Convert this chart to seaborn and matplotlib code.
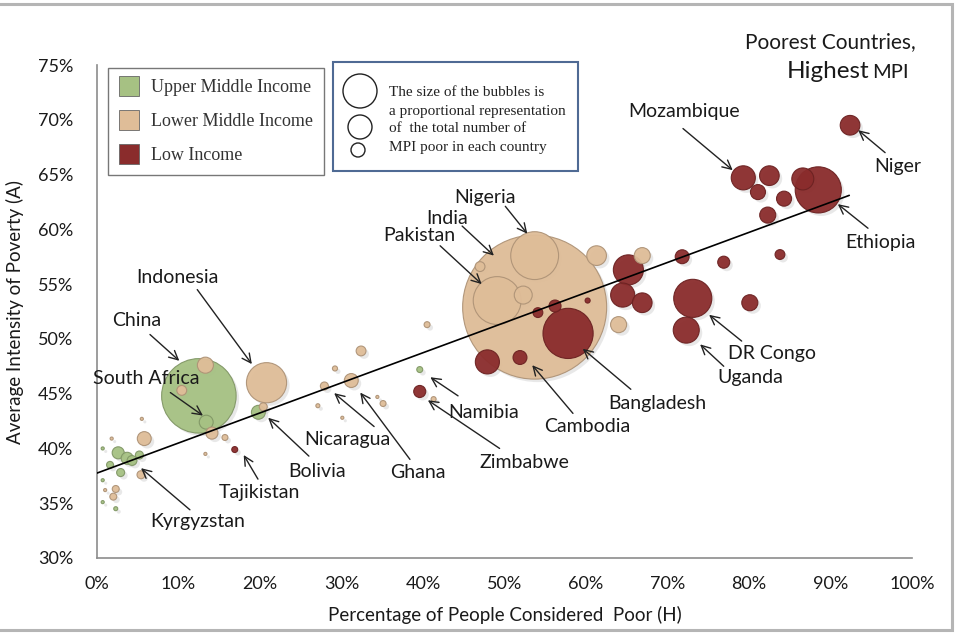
import numpy as np
import pandas as pd
import matplotlib
matplotlib.use("Agg")
import matplotlib.pyplot as plt
import seaborn as sns
from matplotlib.patches import Rectangle, Ellipse
from matplotlib.lines import Line2D
from matplotlib.ticker import FuncFormatter
from matplotlib.transforms import offset_copy

# ---------------- data ----------------
groups = ["Upper Middle Income", "Lower Middle Income", "Low Income"]

# H = % of people considered poor, A = average intensity, poor = MPI poor (millions, bubble area)
um_h = [12.5, 13.4, 19.8, 2.6, 3.7, 4.3, 5.2, 1.6, 2.9, 2.3, 39.6, 0.7, 0.7, 0.7]
um_a = [44.8, 42.4, 43.3, 39.6, 39.1, 38.9, 39.4, 38.5, 37.8, 34.5, 47.2, 40.0, 37.1, 35.1]
um_poor = [172, 6, 6, 4.5, 4.5, 3, 2, 1.5, 2, 0.5, 1.1, 0.3, 0.3, 0.3]

lm_h = [53.7, 53.7, 49.1, 20.8, 13.3, 10.4, 14.1, 15.7, 20.4, 5.8, 5.4, 2.3, 2.0, 32.4,
        29.2, 31.2, 27.9, 27.1, 35.1, 30.1, 41.3, 40.5, 52.3, 47.0, 61.3, 66.9, 64.0,
        5.5, 13.3, 34.4, 1.8, 1.0]
lm_a = [52.9, 57.6, 53.5, 46.0, 47.6, 45.3, 41.4, 41.0, 43.8, 40.9, 37.6, 36.3, 35.6, 48.9,
        47.3, 46.2, 45.7, 43.9, 44.1, 42.8, 44.5, 51.3, 54.0, 56.6, 57.6, 57.6, 51.3,
        42.7, 39.5, 44.7, 40.9, 36.2]
lm_poor = [643, 71, 71, 50, 8, 3, 4.5, 1.1, 2, 6, 2, 1.5, 1.5, 3,
           0.8, 6, 2, 0.5, 1.1, 0.3, 0.8, 1.1, 10, 3, 12, 8, 8,
           0.3, 0.3, 0.3, 0.3, 0.3]

li_h = [57.8, 16.9, 39.6, 47.9, 51.9, 56.2, 54.1, 60.2, 65.2, 64.5, 66.9, 71.8, 73.1, 72.3,
        76.9, 83.8, 80.1, 79.3, 82.5, 81.1, 84.3, 82.3, 88.5, 86.6, 92.4]
li_a = [50.5, 39.9, 45.2, 47.9, 48.3, 53.0, 52.4, 53.5, 56.3, 54.0, 53.3, 57.5, 53.7, 50.8,
        57.0, 57.7, 53.3, 64.7, 64.9, 63.4, 62.8, 61.3, 63.6, 64.6, 69.5]
li_poor = [78, 1.1, 4.5, 18, 6, 4.5, 3, 0.8, 28, 18, 12, 6, 45, 21,
           4.5, 3, 8, 18, 12, 7, 7, 8, 66, 15, 12]

# trend line end points
trend_h = [0.0, 92.3]
trend_a = [37.75, 63.1]

# country labels: (name, text H, text A, arrow start H, A, arrow tip H, A)
labels = [
    ("Mozambique", 72.0, 70.8, 71.9, 69.2, 78.0, 65.4),
    ("Niger", 98.3, 65.7, 96.7, 67.0, 93.4, 69.05),
    ("Ethiopia", 96.1, 58.8, 94.6, 60.1, 90.9, 62.3),
    ("Nigeria", 47.6, 62.9, 50.1, 62.1, 52.8, 59.6),
    ("India", 42.9, 61.0, 44.8, 60.3, 48.7, 57.6),
    ("Pakistan", 39.5, 59.4, 42.1, 58.5, 47.2, 55.0),
    ("Indonesia", 9.9, 55.6, 12.3, 54.5, 19.0, 47.7),
    ("China", 4.9, 51.7, 6.5, 50.4, 10.1, 48.0),
    ("South Africa", 6.0, 46.4, 9.0, 45.1, 13.0, 43.0),
    ("Bolivia", 27.0, 37.9, 26.0, 39.3, 21.0, 42.8),
    ("Nicaragua", 30.7, 40.8, 34.0, 42.0, 29.1, 45.05),
    ("Ghana", 39.4, 37.8, 38.4, 39.0, 32.3, 45.1),
    ("Tajikistan", 19.9, 36.0, 19.75, 37.2, 18.0, 39.4),
    ("Kyrgyzstan", 12.4, 33.3, 11.4, 34.4, 5.4, 38.2),
    ("Namibia", 47.5, 43.3, 44.3, 44.8, 40.9, 46.5),
    ("Zimbabwe", 52.5, 38.7, 49.4, 40.0, 40.6, 44.4),
    ("Cambodia", 60.2, 42.0, 58.4, 43.2, 53.4, 47.6),
    ("Bangladesh", 68.7, 44.1, 65.5, 45.4, 59.6, 49.1),
    ("DR Congo", 82.8, 48.7, 79.1, 49.8, 75.1, 52.2),
    ("Uganda", 80.1, 46.5, 76.9, 47.5, 74.0, 49.5),
]

x_ticks = [0, 10, 20, 30, 40, 50, 60, 70, 80, 90, 100]
y_ticks = [30, 35, 40, 45, 50, 55, 60, 65, 70, 75]

# ---------------- styling ----------------
colors = {"Upper Middle Income": "#a6c183",
          "Lower Middle Income": "#dfbd98",
          "Low Income": "#8a2c2c"}
SANS = ["Lato", "DejaVu Sans"]
SERIF = ["Liberation Serif", "DejaVu Serif"]

sns.set_style("white")
plt.rcParams["font.family"] = SANS

W, H = 962, 633
fig = plt.figure(figsize=(W / 100, H / 100), dpi=100)
fig.patch.set_facecolor("white")
ax = fig.add_axes([97 / W, (H - 558) / H, 815 / W, 493 / H])

df = pd.concat([
    pd.DataFrame({"H": um_h, "A": um_a, "poor": um_poor, "income": groups[0]}),
    pd.DataFrame({"H": lm_h, "A": lm_a, "poor": lm_poor, "income": groups[1]}),
    pd.DataFrame({"H": li_h, "A": li_a, "poor": li_poor, "income": groups[2]}),
], ignore_index=True).sort_values("poor", ascending=False, kind="stable")

PMAX = 700.0
SMAX = 16.72 * PMAX

# soft drop shadow
sns.scatterplot(data=df, x="H", y="A", size="poor", sizes=(0, SMAX),
                size_norm=(0, PMAX), color="#9a9a9a", alpha=0.22, linewidth=0,
                legend=False, ax=ax, zorder=2)
shadow = ax.collections[-1]
shadow.set_offset_transform(offset_copy(ax.transData, fig=fig, x=3, y=-3, units="dots"))

sns.scatterplot(data=df, x="H", y="A", hue="income", palette=colors,
                size="poor", sizes=(0, SMAX), size_norm=(0, PMAX),
                legend=False, alpha=0.95, linewidth=0.8, ax=ax, zorder=3)
coll = ax.collections[-1]
fc = np.array(coll.get_facecolors())
ec = fc.copy()
ec[:, :3] = ec[:, :3] * 0.78
coll.set_edgecolors(ec)

ax.plot(trend_h, trend_a, color="black", lw=1.2, zorder=5)

for name, tx, ty, sx, sy, ex, ey in labels:
    ax.text(tx, ty, name, ha="center", va="center", fontsize=14,
            color="#1a1a1a", zorder=7, clip_on=False)
    ax.annotate("", xy=(ex, ey), xytext=(sx, sy),
                arrowprops=dict(arrowstyle="->", color="#222222", lw=1.0,
                                mutation_scale=16, shrinkA=0, shrinkB=0),
                zorder=6, annotation_clip=False)

ax.set_xlim(0, 100)
ax.set_ylim(30, 75)
ax.set_xticks(x_ticks)
ax.set_yticks(y_ticks)
ax.xaxis.set_major_formatter(FuncFormatter(lambda v, p: f"{v:.0f}%"))
ax.yaxis.set_major_formatter(FuncFormatter(lambda v, p: f"{v:.0f}%"))
ax.tick_params(axis="both", which="major", direction="out", length=5, width=1.2,
               color="#8c8c8c", labelsize=13, labelcolor="#1a1a1a")
ax.tick_params(axis="y", pad=12)
ax.tick_params(axis="x", pad=8)
for side in ["top", "right"]:
    ax.spines[side].set_visible(False)
for side in ["left", "bottom"]:
    ax.spines[side].set_color("#8c8c8c")
    ax.spines[side].set_linewidth(1.2)
ax.set_xlabel("Percentage of People Considered  Poor (H)", fontsize=13.5,
              color="#1a1a1a", labelpad=10)
ax.set_ylabel("Average Intensity of Poverty (A)", fontsize=13.5,
              color="#1a1a1a", labelpad=10)

# income legend
handles = [Line2D([0], [0], marker="s", linestyle="none", markersize=15,
                  markerfacecolor=colors[g], markeredgecolor="#666666",
                  markeredgewidth=0.6) for g in groups]
leg = ax.legend(handles, groups, loc="upper left",
                bbox_to_anchor=(108 / W, 1 - 68 / H), bbox_transform=fig.transFigure,
                frameon=True, fancybox=False, edgecolor="#555555", borderaxespad=0,
                prop={"family": SERIF, "size": 13}, labelspacing=0.95,
                handlelength=1.1, handletextpad=0.7, borderpad=0.6)
leg.get_frame().set_linewidth(1.0)
leg.set_zorder(10)
for t in leg.get_texts():
    t.set_color("#333333")

# bubble size note box
fig.add_artist(Rectangle((333 / W, 1 - 171 / H), 245 / W, 109 / H,
                         transform=fig.transFigure, facecolor="white",
                         edgecolor="#4f6a94", lw=1.5, zorder=8))
for cx, cy, r in [(360, 91, 17), (360, 127, 12), (358, 150, 7)]:
    fig.add_artist(Ellipse((cx / W, 1 - cy / H), 2 * r / W, 2 * r / H,
                           transform=fig.transFigure, facecolor="white",
                           edgecolor="#222222", lw=1.0, zorder=9))
note = ["The size of the bubbles is", "a proportional representation",
        "of  the total number of", "MPI poor in each country"]
for i, line in enumerate(note):
    fig.text(389 / W, 1 - (93 + 18 * i) / H, line, ha="left", va="center",
             fontsize=11, family=SERIF, color="#222222", zorder=10)

# title
fig.text(916 / W, 1 - 42 / H, "Poorest Countries,", ha="right", va="center",
         fontsize=15, color="#1a1a1a")
fig.text(869 / W, 1 - 72 / H, "Highest", ha="right", va="center",
         fontsize=17.5, color="#1a1a1a")
fig.text(872 / W, 1 - 73 / H, "MPI", ha="left", va="center",
         fontsize=14.5, color="#1a1a1a")

# outer frame
fig.add_artist(Rectangle((-0.01, 3.5 / H), 952 / W + 0.01, (630 - 4) / H,
                         transform=fig.transFigure, facecolor="none",
                         edgecolor="#b5b5b5", lw=2.2, zorder=0))

fig.savefig("out.png", dpi=100, facecolor="white")
